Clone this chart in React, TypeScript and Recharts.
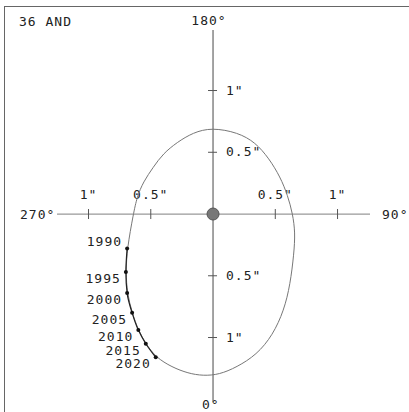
import { ScatterChart, Scatter, XAxis, YAxis, ReferenceLine, ReferenceDot } from 'recharts';

const title = '36 AND';

// epochs on the observed arc, offsets in arcsec (+x toward 90°, +y toward 180°)
const years = [1990, 1995, 2000, 2005, 2010, 2015, 2020];
const epochX = [-0.69, -0.70, -0.69, -0.65, -0.60, -0.54, -0.46];
const epochY = [-0.28, -0.47, -0.64, -0.80, -0.94, -1.05, -1.16];

// apparent orbit, traced clockwise from the top
const orbitX = [
  -0.01, 0.20, 0.34, 0.45, 0.54, 0.60, 0.64, 0.66, 0.65, 0.62, 0.57, 0.48, 0.35, 0.19, 0.05, -0.08,
  -0.20, -0.33, -0.46, -0.54, -0.60, -0.65, -0.69, -0.70, -0.69, -0.64, -0.61, -0.56, -0.48, -0.40,
  -0.29, -0.16,
];
const orbitY = [
  0.70, 0.66, 0.58, 0.45, 0.30, 0.15, 0.0, -0.15, -0.32, -0.57, -0.78, -0.98, -1.14, -1.24, -1.30,
  -1.31, -1.29, -1.24, -1.16, -1.05, -0.94, -0.80, -0.64, -0.47, -0.28, 0.0, 0.14, 0.26, 0.38, 0.49,
  0.58, 0.66,
];

const ringTicks = [0.5, 1];
const ringLabels = ['0.5"', '1"'];
const compassLabels = ['180°', '90°', '0°', '270°'];

const epochs = years.map((year, i) => ({ year, x: epochX[i], y: epochY[i] }));
const orbit = orbitX.map((x, i) => ({ x, y: orbitY[i] }));

const W = 409;
const H = 412;
const X_DOMAIN: [number, number] = [-1.711, 1.574];
const Y_DOMAIN: [number, number] = [-1.603, 1.733];
const AXIS_X: [number, number] = [-1.253, 1.261];
const AXIS_Y: [number, number] = [-1.52, 1.49];

const font = '"DejaVu Sans Mono", "Liberation Mono", monospace';
const ink = '#222';

const txt = { fontFamily: font, fontSize: 13, letterSpacing: 1, fill: ink };

function EpochDot(props: any) {
  const { cx, cy, payload } = props;
  const dy = payload.year === 1990 ? -3 : 11;
  return (
    <g>
      <circle cx={cx} cy={cy} r={2} fill="#111" />
      <text x={cx - 5} y={cy + dy} textAnchor="end" {...txt}>
        {payload.year}
      </text>
    </g>
  );
}

// tick on the horizontal axis, label above
function hTick(label: string) {
  return (props: any) => (
    <g>
      <line x1={props.cx} x2={props.cx} y1={props.cy - 5} y2={props.cy + 5} stroke="#555" />
      <text x={props.cx} y={props.cy - 15} textAnchor="middle" {...txt}>
        {label}
      </text>
    </g>
  );
}

// tick on the vertical axis, label to the right
function vTick(label: string) {
  return (props: any) => (
    <g>
      <line x1={props.cx - 5} x2={props.cx + 4} y1={props.cy} y2={props.cy} stroke="#555" />
      <text x={props.cx + 13} y={props.cy + 4} textAnchor="start" {...txt}>
        {label}
      </text>
    </g>
  );
}

function compass(label: string, dx: number, dy: number, anchor: 'start' | 'middle' | 'end') {
  return (props: any) => (
    <text x={props.cx + dx} y={props.cy + dy} textAnchor={anchor} {...txt}>
      {label}
    </text>
  );
}

export default function App() {
  return (
    <div style={{ position: 'absolute', left: 0, top: 0, width: W, height: H, background: '#fff' }}>
      <div
        style={{
          position: 'absolute',
          left: 4,
          top: 6,
          right: 0,
          bottom: 0,
          borderTop: '1.5px solid #666',
          borderLeft: '1.5px solid #666',
        }}
      />
      <div
        style={{
          position: 'absolute',
          left: 19,
          top: 14,
          fontFamily: font,
          fontSize: 13,
          letterSpacing: 1,
          color: ink,
        }}
      >
        {title}
      </div>
      <div style={{ position: 'absolute', left: 0, top: 0 }}>
        <ScatterChart width={W} height={H} margin={{ top: 0, right: 0, bottom: 0, left: 0 }}>
          <XAxis type="number" dataKey="x" domain={X_DOMAIN} allowDataOverflow hide />
          <YAxis type="number" dataKey="y" domain={Y_DOMAIN} allowDataOverflow hide />

          <ReferenceLine
            segment={[{ x: AXIS_X[0], y: 0 }, { x: AXIS_X[1], y: 0 }]}
            stroke="#999"
            strokeWidth={1.2}
          />
          <ReferenceLine
            segment={[{ x: 0, y: AXIS_Y[0] }, { x: 0, y: AXIS_Y[1] }]}
            stroke="#666"
            strokeWidth={1.2}
          />

          {ringTicks.flatMap((v, i) => [
            <ReferenceDot key={`e${v}`} x={v} y={0} r={0} shape={hTick(ringLabels[i])} />,
            <ReferenceDot key={`w${v}`} x={-v} y={0} r={0} shape={hTick(ringLabels[i])} />,
            <ReferenceDot key={`n${v}`} x={0} y={v} r={0} shape={vTick(ringLabels[i])} />,
            <ReferenceDot key={`s${v}`} x={0} y={-v} r={0} shape={vTick(ringLabels[i])} />,
          ])}

          <ReferenceDot x={0} y={AXIS_Y[1]} r={0} shape={compass(compassLabels[0], -4, -5, 'middle')} />
          <ReferenceDot x={AXIS_X[1]} y={0} r={0} shape={compass(compassLabels[1], 12, 5, 'start')} />
          <ReferenceDot x={0} y={AXIS_Y[0]} r={0} shape={compass(compassLabels[2], -11, 7, 'start')} />
          <ReferenceDot x={AXIS_X[0]} y={0} r={0} shape={compass(compassLabels[3], -37, 5, 'start')} />

          <Scatter
            data={orbit}
            line={{ stroke: '#777', strokeWidth: 1 }}
            lineJointType="basisClosed"
            shape={() => <g />}
            isAnimationActive={false}
          />
          <Scatter
            data={epochs}
            line={{ stroke: '#222', strokeWidth: 1.2 }}
            lineJointType="monotoneY"
            shape={EpochDot}
            isAnimationActive={false}
          />

          <ReferenceDot x={0} y={0} r={6} fill="#777" stroke="#555" />
        </ScatterChart>
      </div>
    </div>
  );
}
